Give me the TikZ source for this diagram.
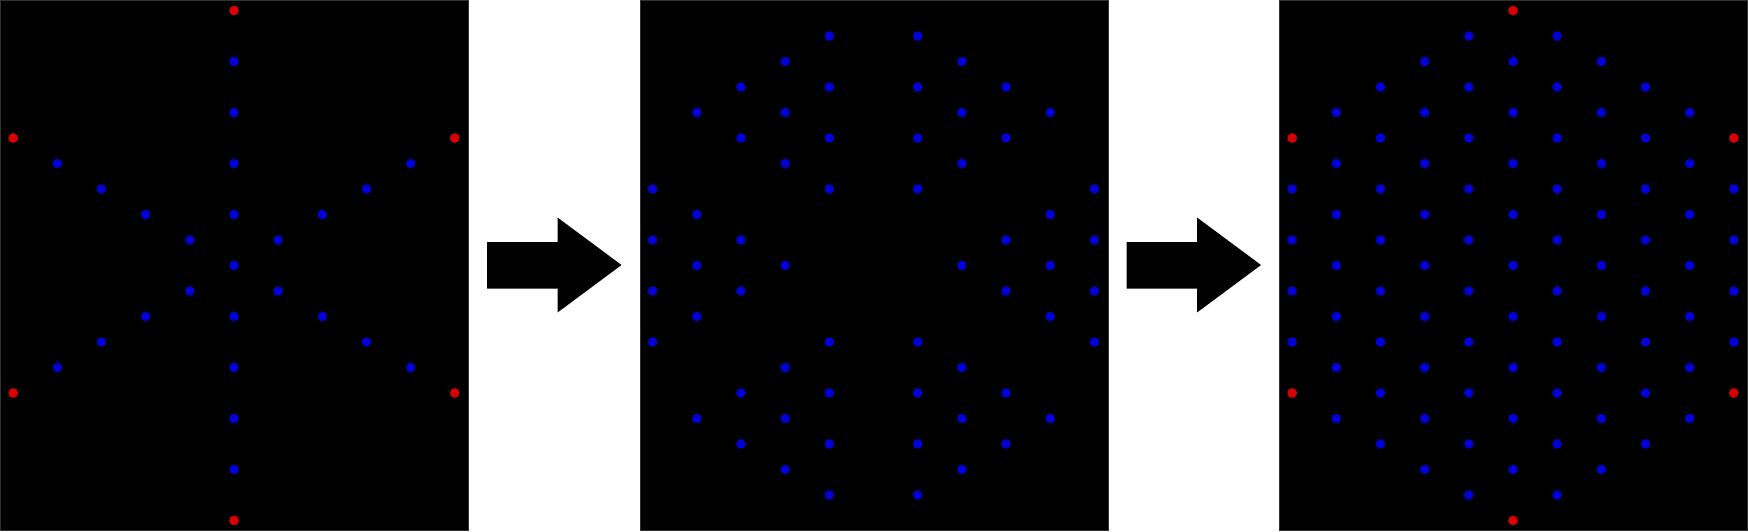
\documentclass[tikz,border=0pt]{standalone}
\definecolor{dotblue}{RGB}{0,0,215}
\definecolor{dotred}{RGB}{215,0,0}
\begin{document}
\begin{tikzpicture}[x=1pt,y=-1pt,
  panel/.style={fill=black,draw=black!80!white,line width=0.8pt},
  bigarrow/.style={fill=black}]
\useasboundingbox (0,0) rectangle (1748,531);
\fill[white] (0,0) rectangle (1748,531);
% panels
\foreach \L in {0,639.5,1279}
  \filldraw[panel] (\L+0.4,0.4) rectangle (\L+468.6,530.6);
% arrows
\foreach \d in {0,639.5}
  \fill[bigarrow] (487+\d,242) -- (557.5+\d,242) -- (557.5+\d,217.5) -- (621.5+\d,265)
     -- (557.5+\d,312.5) -- (557.5+\d,288.5) -- (487+\d,288.5) -- cycle;
% lattice dots
\foreach \c in {-5,...,5}{
  \pgfmathtruncatemacro\m{10-abs(\c)}
  \pgfmathtruncatemacro\ma{-\m}
  \pgfmathtruncatemacro\mb{-\m+2}
  \foreach \r in {\ma,\mb,...,\m}{
    \pgfmathtruncatemacro\isred{or(and(\c==0,abs(\r)==10),and(abs(\c)==5,abs(\r)==5))}
    \pgfmathtruncatemacro\spoke{or(\c==0,abs(\r)==abs(\c))}
    \ifnum\isred=1 \def\col{dotred}\def\rad{4.9pt}\else\def\col{dotblue}\def\rad{4.8pt}\fi
    \fill[\col] (1513+\c*44.167,265.5+\r*25.5) circle (\rad);
    \ifnum\spoke=1
      \fill[\col] (234+\c*44.167,265.5+\r*25.5) circle (\rad);
    \else
      \fill[\col] (873.5+\c*44.167,265.5+\r*25.5) circle (\rad);
    \fi
  }
}
\end{tikzpicture}
\end{document}
